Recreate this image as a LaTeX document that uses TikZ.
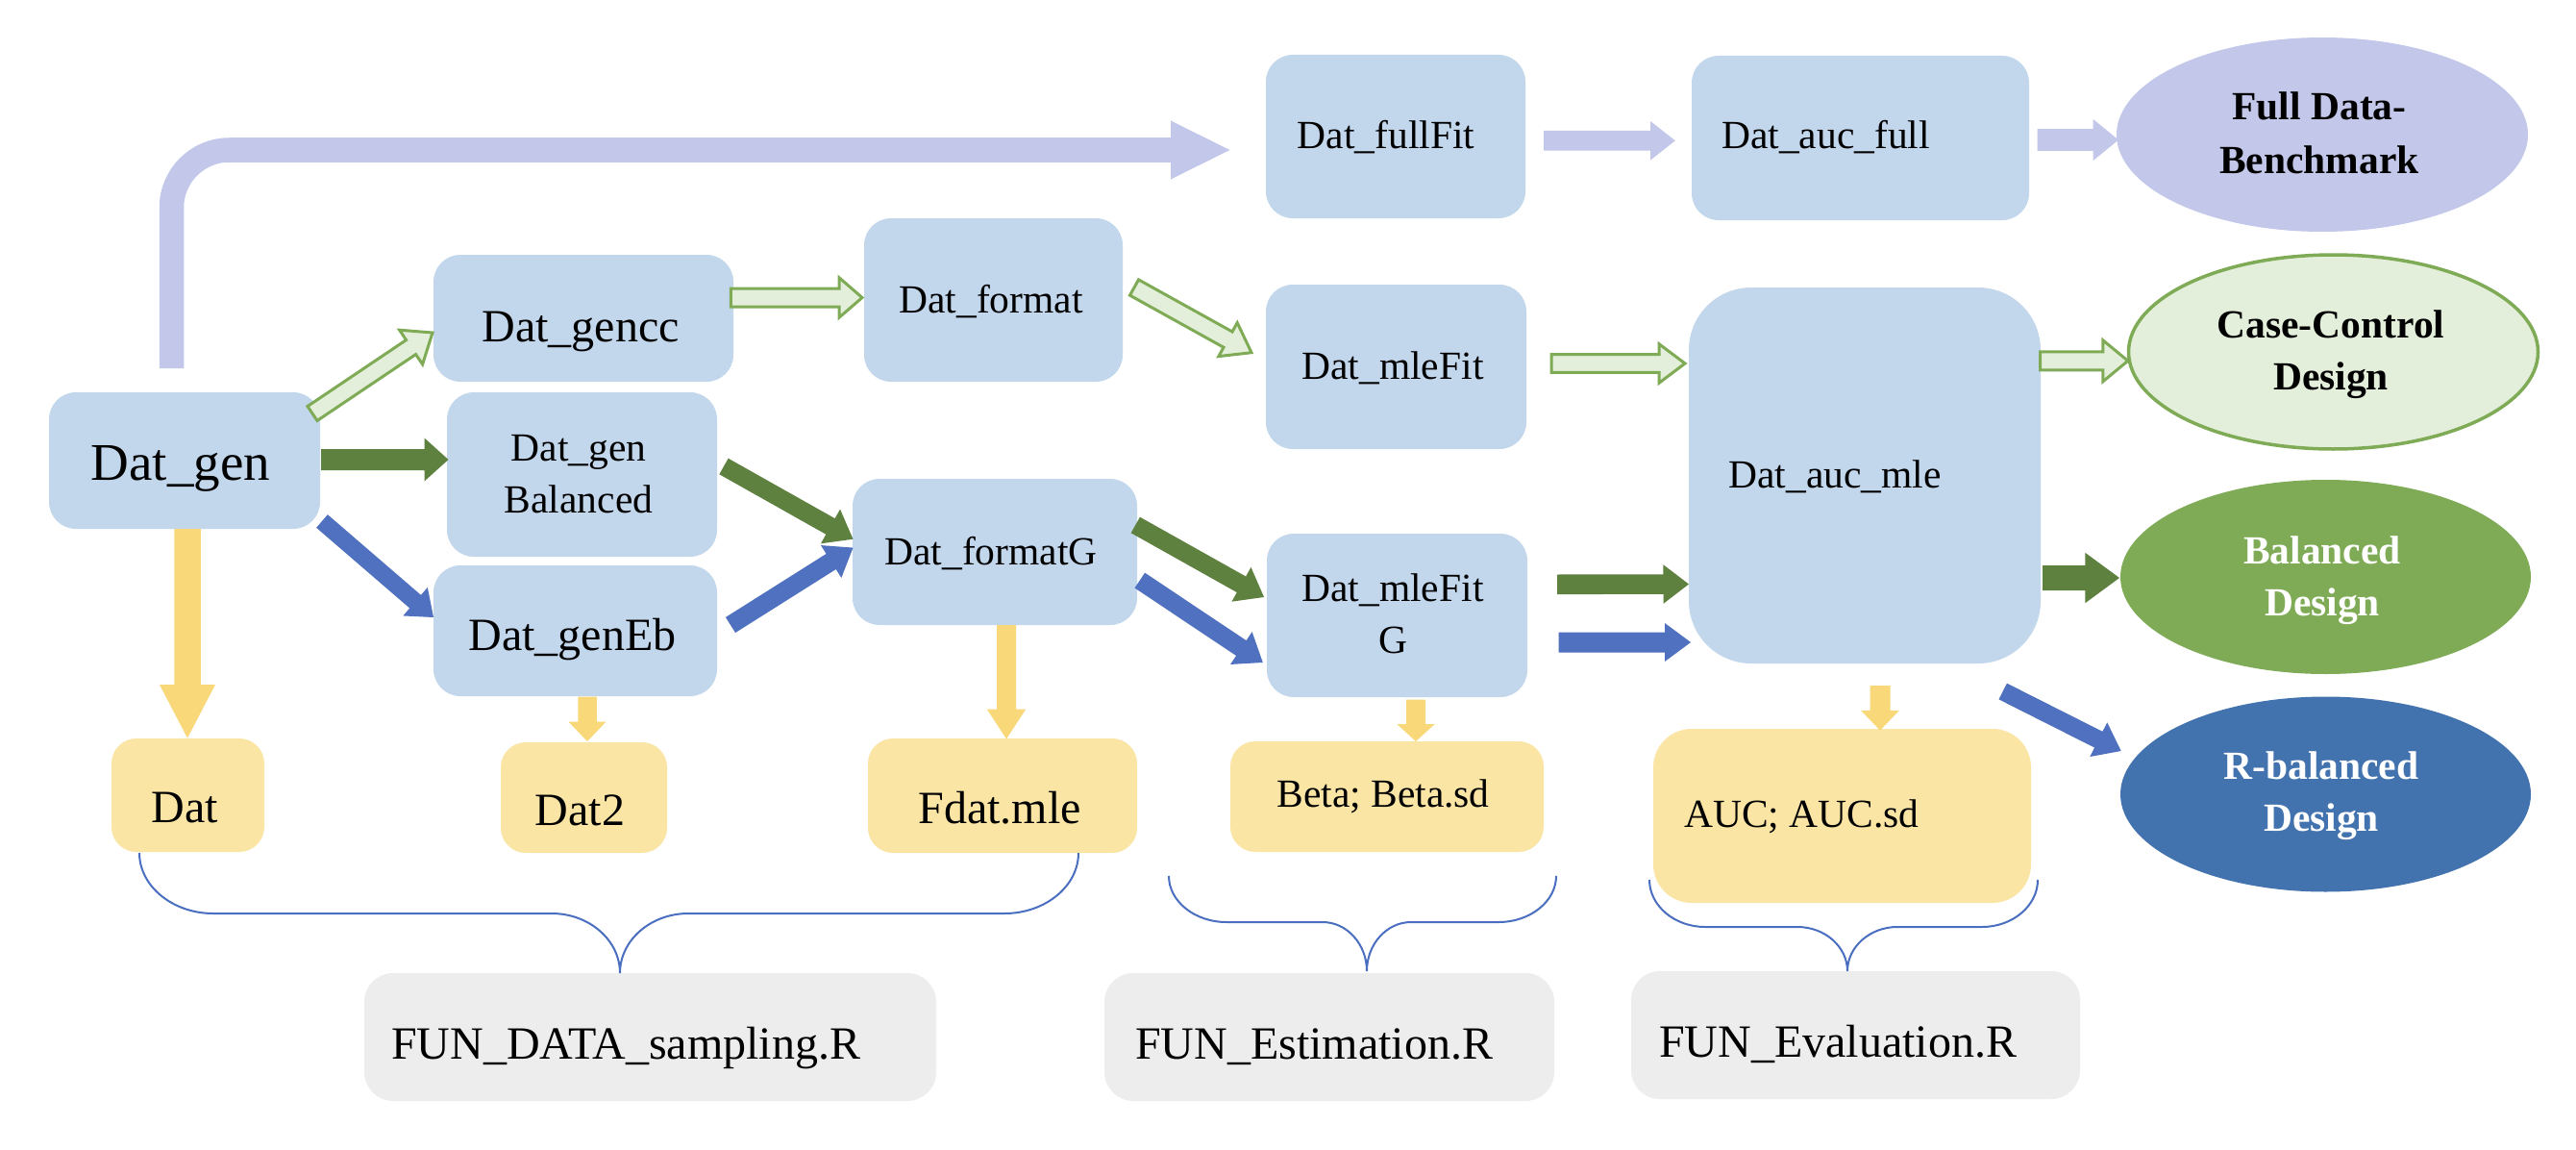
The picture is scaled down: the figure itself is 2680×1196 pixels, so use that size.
\documentclass[tikz,border=0pt]{standalone}
\usepackage{fontspec}
\setmainfont{Liberation Serif}
\usetikzlibrary{calc,shapes.geometric}
\definecolor{boxblue}{HTML}{C2D6EC}
\definecolor{boxyel}{HTML}{FAE5A5}
\definecolor{arryel}{HTML}{F8D878}
\definecolor{lav}{HTML}{C3C8EA}
\definecolor{dgreen}{HTML}{5F8140}
\definecolor{mgreen}{HTML}{7FAB56}
\definecolor{lgreen}{HTML}{E3EFDA}
\definecolor{blueA}{HTML}{5071BF}
\definecolor{rblue}{HTML}{4273AE}
\definecolor{greybox}{HTML}{EDEDED}
\definecolor{bracec}{HTML}{4A6FC0}
\newcommand\szA{\fontsize{41.5}{54}\selectfont}
\newcommand\szB{\fontsize{48}{60}\selectfont}
\newcommand\szC{\fontsize{55}{66}\selectfont}
\newcommand\szE{\fontsize{41.5}{56}\selectfont\bfseries}
\newcommand\szD{\fontsize{41.5}{54}\selectfont\bfseries}
% block arrow: style, start, end, half shaft, half head, head length
\newcommand\barrow[6]{%
  \coordinate (ba-A) at #2;
  \coordinate (ba-B) at #3;
  \coordinate (ba-H) at ($(ba-B)!#6pt!(ba-A)$);
  \path[#1] ($(ba-A)!#4pt!90:(ba-B)$) -- ($(ba-H)!#4pt!-90:(ba-A)$) -- ($(ba-H)!#5pt!-90:(ba-A)$) -- (ba-B) -- ($(ba-H)!#5pt!90:(ba-A)$) -- ($(ba-H)!#4pt!90:(ba-A)$) -- ($(ba-A)!#4pt!-90:(ba-B)$) -- cycle;}
% curly brace: x1, x2, xc, ytop, ymid, ytip, corner width, middle width
\newcommand\cbrace[8]{%
  \draw[bracestyle] (#1,#4) .. controls (#1,{#4+0.55*(#5-#4)}) and ({#1+0.45*#7},#5) .. ({#1+#7},#5)
    -- ({#3-#8},#5) .. controls ({#3-0.45*#8},#5) and (#3,{#6-0.55*(#6-#5)}) .. (#3,#6)
    .. controls (#3,{#6-0.55*(#6-#5)}) and ({#3+0.45*#8},#5) .. ({#3+#8},#5)
    -- ({#2-#7},#5) .. controls ({#2-0.45*#7},#5) and (#2,{#4+0.55*(#5-#4)}) .. (#2,#4);}
\tikzset{
  every node/.style={outer sep=0pt},
  bbox/.style={rectangle, rounded corners=28pt, fill=boxblue, inner sep=0pt},
  ybox/.style={rectangle, rounded corners=26pt, fill=boxyel, inner sep=0pt},
  gbox/.style={rectangle, rounded corners=30pt, fill=greybox, inner sep=0pt},
  oval/.style={ellipse, inner sep=0pt},
  tx/.style={anchor=base, inner sep=0pt},
  txw/.style={anchor=base west, inner sep=0pt},
  lavarr/.style={fill=lav},
  lgarr/.style={fill=lgreen, draw=mgreen, line width=3pt, line join=miter},
  dgarr/.style={fill=dgreen},
  blarr/.style={fill=blueA},
  yarr/.style={fill=arryel},
  bracestyle/.style={draw=bracec, line width=2pt}
}
\newcommand\twol[2]{\begin{tabular}[t]{@{}c@{}}#1\\#2\end{tabular}}
\begin{document}
\begin{tikzpicture}[x=1pt,y=-1pt]
\fill[white] (0,0) rectangle (2680,1196);
\useasboundingbox (0,0) rectangle (2680,1196);
% boxes
\node[bbox, minimum width=282pt, minimum height=142pt] (datgen) at (192,479) {};
\node[bbox, minimum width=312pt, minimum height=132pt] (gencc) at (607,331) {};
\node[bbox, minimum width=269pt, minimum height=170pt] (format) at (1033.5,312) {};
\node[bbox, minimum width=281pt, minimum height=171pt] (genbal) at (605.5,493.5) {};
\node[bbox, minimum width=295pt, minimum height=136pt] (geneb) at (598.5,656) {};
\node[bbox, minimum width=296pt, minimum height=152pt] (formatg) at (1035,574) {};
\node[bbox, minimum width=270pt, minimum height=170pt] (fullfit) at (1452,142) {};
\node[bbox, minimum width=351pt, minimum height=171pt] (aucfull) at (1935.5,143.5) {};
\node[bbox, minimum width=271pt, minimum height=171pt] (mlefit) at (1452.5,381.5) {};
\node[bbox, minimum width=271pt, minimum height=170pt] (mlefitg) at (1453.5,640) {};
\node[bbox, rounded corners=65pt, minimum width=366pt, minimum height=391pt] (aucmle) at (1940,494.5) {};
\node[ybox, minimum width=159pt, minimum height=118pt] (dat) at (195.5,827) {};
\node[ybox, minimum width=173pt, minimum height=115pt] (dat2) at (607.5,829.5) {};
\node[ybox, minimum width=280pt, minimum height=119pt] (fdat) at (1043,827.5) {};
\node[ybox, minimum width=326pt, minimum height=115pt] (beta) at (1443,828.5) {};
\node[ybox, rounded corners=40pt, minimum width=393pt, minimum height=181pt] (auc) at (1916.5,848.5) {};
\node[gbox, minimum width=595pt, minimum height=133pt] (fun1) at (676.5,1078.5) {};
\node[gbox, minimum width=468pt, minimum height=133pt] (fun2) at (1383,1078.5) {};
\node[gbox, minimum width=467pt, minimum height=133pt] (fun3) at (1930.5,1076.5) {};
% ellipses
\node[oval, fill=lav, minimum width=428pt, minimum height=202pt] (full) at (2416,140) {};
\node[oval, fill=lgreen, draw=mgreen, line width=3.5pt, minimum width=426pt, minimum height=202pt] (cc) at (2427.5,366) {};
\node[oval, fill=mgreen, minimum width=427pt, minimum height=202pt] (bal) at (2419.5,600) {};
\node[oval, fill=rblue, minimum width=427pt, minimum height=203pt] (rbal) at (2419.5,826) {};
% texts
\node[tx, font=\szC] (t-datgen) at (188,499.4) {Dat\_gen};
\node[tx, font=\szB] (t-gencc) at (604,355) {Dat\_gencc};
\node[tx, font=\szA] (t-format) at (1031,325) {Dat\_format};
\node[tx, font=\szA] (t-genbal) at (602,479) {\twol{Dat\_gen}{Balanced}};
\node[tx, font=\szB] (t-geneb) at (595.6,676.7) {Dat\_genEb};
\node[tx, font=\szA] (t-formatg) at (1031,587.4) {Dat\_formatG};
\node[tx, font=\szA] (t-fullfit) at (1442,155) {Dat\_fullFit};
\node[tx, font=\szA] (t-aucfull) at (1899.6,155) {Dat\_auc\_full};
\node[tx, font=\szA] (t-mlefit) at (1449,394.7) {Dat\_mleFit};
\node[tx, font=\szA] (t-mlefitg) at (1449,625.8) {\twol{Dat\_mleFit}{G}};
\node[tx, font=\szA] (t-aucmle) at (1909,507) {Dat\_auc\_mle};
\node[tx, font=\szB] (t-dat) at (192,855) {Dat};
\node[tx, font=\szB] (t-dat2) at (603.5,858.6) {Dat2};
\node[tx, font=\szB] (t-fdat) at (1040,856.4) {Fdat.mle};
\node[tx, font=\szA] (t-beta) at (1439,839) {Beta; Beta.sd};
\node[tx, font=\szA] (t-auc) at (1874.5,860.4) {AUC; AUC.sd};
\node[txw, font=\szB] (t-fun1) at (407,1101.4) {FUN\_DATA\_sampling.R};
\node[txw, font=\szB] (t-fun2) at (1181,1101) {FUN\_Estimation.R};
\node[txw, font=\szB] (t-fun3) at (1726,1099) {FUN\_Evaluation.R};
\node[tx, font=\szE] (t-full) at (2413,124.4) {\twol{Full Data-}{Benchmark}};
\node[tx, font=\szD] (t-cc) at (2425,351) {\twol{Case-Control}{Design}};
\node[tx, font=\szD, text=white] (t-bal) at (2416,586) {\twol{Balanced}{Design}};
\node[tx, font=\szD, text=white] (t-rbal) at (2415,810.7) {\twol{R-balanced}{Design}};
% big lavender arrow
\draw[draw=lav, line width=25.5pt, rounded corners=60pt] ($(datgen.north)+(-13.5,-25)$) |- ($(fullfit.west)+(-99,14)$);
\barrow{lavarr}{($(fullfit.west)+(-200,14)$)}{($(fullfit.west)+(-37.5,14)$)}{12.75}{30.5}{61.5}
\barrow{lavarr}{($(fullfit.east)+(19,4.3)$)}{($(aucfull.west)+(-17.2,2.8)$)}{10.35}{20.35}{25.8}
\barrow{lavarr}{($(aucfull.east)+(8.5,2)$)}{($(full.west)+(2,5.5)$)}{11.35}{21.5}{26.3}
% light green outlined arrows
\barrow{lgarr}{($(datgen.north east)+(-8,22)$)}{($(gencc.west)+(-1,15)$)}{9}{21.5}{27}
\barrow{lgarr}{($(gencc.east)+(-2.6,-21.5)$)}{($(format.west)+(-2,-2.5)$)}{9.5}{20.75}{24}
\barrow{lgarr}{($(format.east)+(12,-13)$)}{($(mlefit.west)+(-15,-14.8)$)}{9.3}{20}{28}
\barrow{lgarr}{($(mlefit.east)+(26,-3.5)$)}{($(aucmle.west)+(-4,-116.5)$)}{9.3}{20.3}{27}
\barrow{lgarr}{($(aucmle.east)+(-0.3,-119.2)$)}{($(cc.west)+(-0.7,9.3)$)}{9.5}{21.5}{26}
% dark green arrows
\barrow{dgarr}{($(datgen.east)+(1,-1)$)}{($(genbal.west)+(1.5,-15.5)$)}{11}{22.5}{25}
\barrow{dgarr}{($(genbal.east)+(7,-8.5)$)}{($(formatg.west)+(0.5,-13.3)$)}{9.5}{20.5}{27}
\barrow{dgarr}{($(formatg.east)+(-1.7,-28)$)}{($(mlefitg.west)+(-3,-19)$)}{9.5}{20.5}{27}
\barrow{dgarr}{($(mlefitg.east)+(31,-32.2)$)}{($(aucmle.west)+(0,113)$)}{10.3}{20.25}{26.5}
\barrow{dgarr}{($(aucmle.east)+(2,106.5)$)}{($(bal.west)+(-1,1)$)}{13}{26.25}{35.7}
% blue arrows
\barrow{blarr}{($(datgen.south east)+(2,-8)$)}{($(geneb.west)+(0,-14)$)}{9}{19.5}{25}
\barrow{blarr}{($(geneb.east)+(14,-6)$)}{($(formatg.west)+(0.5,-4.4)$)}{9.5}{20}{27}
\barrow{blarr}{($(formatg.east)+(2.8,29.6)$)}{($(mlefitg.west)+(-4.2,49)$)}{9.5}{20.35}{27}
\barrow{blarr}{($(mlefitg.east)+(32.5,28)$)}{($(aucmle.west)+(2,173.5)$)}{10.5}{20}{27}
\barrow{blarr}{($(aucmle.south east)+(-39.3,29)$)}{($(rbal.west)+(0.7,-45)$)}{9.35}{20}{26.3}
% yellow arrows
\barrow{yarr}{($(datgen.south)+(3,0)$)}{($(dat.north)+(-0.5,-0.4)$)}{13.75}{29}{55.6}
\barrow{yarr}{($(geneb.south)+(12.5,0.5)$)}{($(dat2.north)+(3.5,-1)$)}{9.75}{19.5}{20.4}
\barrow{yarr}{($(formatg.south)+(12,0)$)}{($(fdat.north)+(4,0.5)$)}{10}{20.25}{31}
\barrow{yarr}{($(mlefitg.south)+(19.5,2.6)$)}{($(beta.north)+(30,0)$)}{10}{19.75}{18}
\barrow{yarr}{($(aucmle.south)+(16,23)$)}{($(auc.north)+(39.5,1.6)$)}{10.5}{20}{20.8}
% braces
\cbrace{145}{1122}{645}{887}{950}{1012}{77}{71}
\cbrace{1216}{1619}{1422}{911}{959}{1010}{60}{46}
\cbrace{1716}{2120}{1922}{915}{964}{1010}{58}{52}
\end{tikzpicture}
\end{document}
